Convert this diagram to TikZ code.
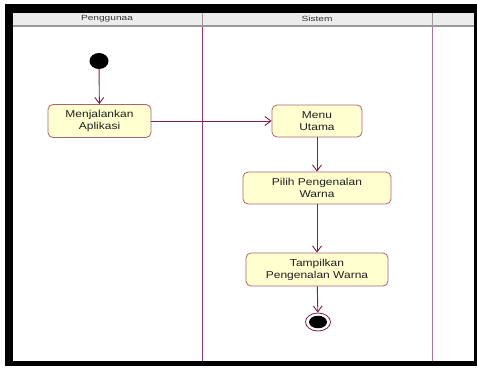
\documentclass[tikz,border=0pt]{standalone}
\usepackage{fontspec}
\setmainfont{Liberation Sans}
\newfontfamily\boxfont[FakeStretch=1.2]{Liberation Sans}
\newfontfamily\headfont[FakeStretch=1.35]{Liberation Sans}
\usetikzlibrary{arrows.meta,shapes.geometric}
\definecolor{flowline}{RGB}{128,30,80}
\definecolor{laneline}{RGB}{160,50,110}
\definecolor{boxborder}{RGB}{170,100,120}
\definecolor{boxfill}{RGB}{255,255,208}
\definecolor{headfill}{RGB}{236,236,236}
\tikzset{
  activity/.style={draw=boxborder, fill=boxfill, rounded corners=5pt, line width=0.8pt,
    minimum height=33pt, align=center, inner sep=0pt,
    font=\boxfont\fontsize{10}{12}\selectfont, text=black!88},
  flow/.style={draw=flowline, line width=0.9pt, -{Straight Barb[length=6pt,width=9pt]}},
  lanelabel/.style={font=\headfont\fontsize{7.5}{9}\selectfont, text=black!80, inner sep=0pt}
}
\begin{document}
\begin{tikzpicture}[x=1pt,y=-1pt]
\useasboundingbox (0,0) rectangle (477,370);
\fill[white] (0,0) rectangle (477,370);
% black frame
\fill[black] (5,4) rectangle (477,366);
\fill[white] (13,13) rectangle (474,361);
% header
\fill[headfill] (13,13) rectangle (474,25);
\fill[black!40] (13,24.5) rectangle (474,27);
\draw[black!40, line width=1pt] (202.5,13) -- (202.5,27);
\draw[black!40, line width=1pt] (432,13) -- (432,27);
\draw[laneline, line width=0.8pt] (202.5,27) -- (202.5,361);
\draw[laneline!70, line width=0.8pt] (432,27) -- (432,361);
\node[lanelabel] (lane1) at (107,19) {Penggunaa};
\node[lanelabel] (lane2) at (317,19) {Sistem};
% nodes
\node[ellipse, fill=black, minimum width=19pt, minimum height=16pt, inner sep=0pt] (start) at (99,61) {};
\node[activity, minimum width=103pt] (a1) at (99.5,121) {Menjalankan\\Aplikasi};
\node[activity, minimum width=90pt, minimum height=32pt] (a2) at (317,121) {Menu\\Utama};
\node[activity, minimum width=148pt, minimum height=32pt] (a3) at (317,188) {Pilih Pengenalan\\Warna};
\node[activity, minimum width=142pt] (a4) at (317,269.5) {Tampilkan\\Pengenalan Warna};
\node[ellipse, draw=flowline, fill=white, line width=0.8pt, minimum width=25pt, minimum height=18pt, inner sep=0pt] (end) at (318,322) {};
\node[ellipse, fill=black, minimum width=18pt, minimum height=12.5pt, inner sep=0pt] (endin) at (318,322) {};
% flows
\draw[flow] (start) -- (a1);
\draw[flow] (a1) -- (a2);
\draw[flow] (a2) -- (a3);
\draw[flow] (a3) -- (a4);
\draw[flow] (a4) -- (end);
\end{tikzpicture}
\end{document}
